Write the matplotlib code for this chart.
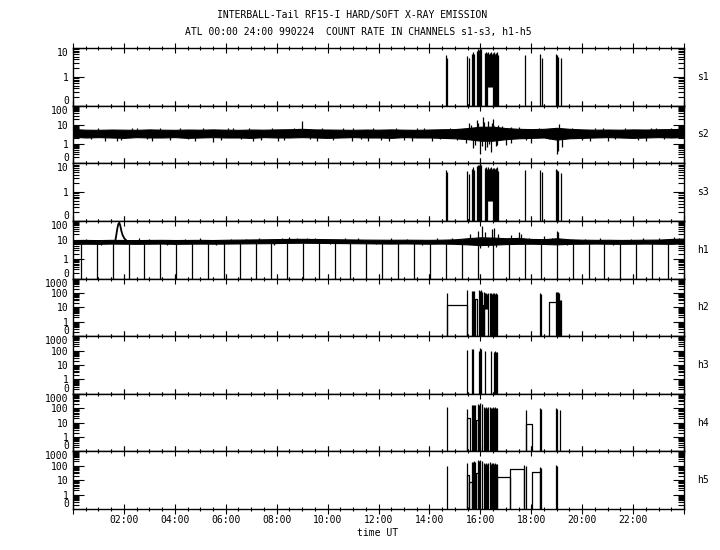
import numpy as np
import matplotlib
matplotlib.use('Agg')
import matplotlib.pyplot as plt
from matplotlib.ticker import FixedLocator, LogLocator, NullFormatter

plt.rcParams['font.family'] = 'DejaVu Sans Mono'
plt.rcParams['font.size'] = 7

# ---- channel layout / axis ranges ----
channels = ['s1', 's2', 's3', 'h1', 'h2', 'h3', 'h4', 'h5']
y_tops = [10, 100, 10, 100, 1000, 1000, 1000, 1000]
FLOOR = 0.1          # zero counts are shown at the bottom ("0")

hour_ticks = [0, 2, 4, 6, 8, 10, 12, 14, 16, 18, 20, 22, 24]
hour_labels = ['', '02:00', '04:00', '06:00', '08:00', '10:00', '12:00',
               '14:00', '16:00', '18:00', '20:00', '22:00', '']

# ---- s2 : noisy background band (half-hour envelope) + outliers ----
band_t = np.arange(0, 24.01, 0.5)
s2_lo = [2.4, 2.2, 2.3, 2.2, 2.1, 2.3, 2.2, 2.2, 2.3, 2.1, 2.2, 2.3,
         2.2, 2.2, 2.1, 2.3, 2.2, 2.2, 2.3, 2.2, 2.1, 2.2, 2.3, 2.2,
         2.2, 2.1, 2.3, 2.2, 2.2, 2.1, 2.0, 1.8, 1.5, 1.5, 1.8, 2.0,
         2.1, 2.2, 1.7, 2.0, 2.1, 2.2, 2.3, 2.2, 2.1, 2.2, 2.3, 2.2,
         2.3]
s2_hi = [6.0, 5.6, 5.5, 5.7, 5.6, 5.5, 5.8, 5.6, 5.5, 5.7, 5.6, 5.8,
         5.6, 5.5, 5.7, 5.6, 5.8, 5.9, 6.2, 5.8, 5.7, 5.6, 5.5, 5.7,
         5.6, 5.8, 5.6, 5.5, 5.7, 5.9, 6.0, 6.8, 8.0, 8.0, 6.8, 6.2,
         6.0, 6.2, 7.0, 6.2, 5.8, 5.6, 5.7, 5.6, 5.8, 5.7, 5.9, 6.0,
         6.2]
s2_out_t = [1.26, 1.72, 2.5, 3.09, 4.79, 5.5, 6.3, 7.07, 8.05, 9.0, 9.57, 10.95,
            11.0, 11.6, 12.4, 13.3, 13.8, 14.1, 15.55, 15.7, 15.85, 16.0, 16.1,
            16.2, 16.3, 16.4, 16.5, 16.6, 16.7, 17.0, 17.5, 18.0, 19.0, 19.05,
            19.1, 19.2, 20.3, 20.8, 21.0, 22.5, 22.9, 23.9,
            15.45, 15.62, 15.78, 15.92, 16.05, 16.15, 16.25, 16.35, 16.45, 16.55, 16.65,
            16.85, 17.2]
s2_out_v = [1.4, 1.5, 7.0, 1.4, 1.5, 1.3, 7.0, 1.4, 1.5, 15.0, 1.4, 1.5,
            7.0, 1.5, 1.4, 1.5, 7.0, 1.4, 12.0, 0.6, 18.0, 0.3, 25.0,
            0.5, 15.0, 0.4, 20.0, 0.8, 10.0, 0.9, 8.0, 1.2, 0.3, 0.45,
            11.0, 0.7, 1.5, 7.0, 1.5, 1.4, 7.0, 8.0,
            1.2, 10.0, 0.9, 12.0, 0.8, 14.0, 0.7, 1.0, 12.0, 9.0, 0.9,
            9.0, 1.1]
s2_jag_t = [0.2, 0.7, 1.0, 1.9, 2.3, 2.9, 3.4, 3.8, 4.2, 4.5,
            5.1, 5.8, 6.1, 6.6, 6.9, 7.4, 7.8, 8.3, 8.7, 9.3,
            9.8, 10.2, 10.6, 11.3, 11.8, 12.1, 12.7, 13.0, 13.5, 14.4,
            14.8, 15.1, 17.2, 17.8, 18.3, 18.7, 19.6, 20.0, 20.5, 21.3,
            21.7, 22.2, 22.7, 23.2, 23.5]
s2_jag_v = [6.8, 1.8, 7.2, 1.7, 6.9, 1.8, 7.0, 1.6, 6.8, 1.8,
            7.1, 1.7, 6.9, 1.8, 7.0, 1.7, 6.8, 1.6, 7.2, 1.8,
            6.9, 1.7, 7.0, 1.8, 6.8, 1.7, 7.1, 1.6, 6.9, 1.8,
            7.0, 1.7, 7.5, 1.6, 7.2, 1.8, 6.9, 1.7, 7.0, 1.8,
            6.8, 1.7, 7.1, 1.8, 6.9]

# ---- h1 : background band, peak near 01:50, periodic dropouts ----
h1_lo = [6.3, 6.5, 6.4, 6.6, 6.5, 6.4, 6.5, 6.6, 6.4, 6.5, 6.6, 6.5,
         6.6, 6.7, 6.8, 6.9, 7.0, 7.2, 7.3, 7.2, 7.1, 7.0, 6.9, 6.8,
         6.7, 6.6, 6.7, 6.6, 6.5, 6.6, 6.4, 6.0, 5.5, 5.8, 6.2, 6.4,
         6.5, 6.3, 6.0, 6.4, 6.5, 6.6, 6.5, 6.4, 6.5, 6.6, 6.5, 6.4,
         6.8]
h1_hi = [10.0, 10.2, 10.0, 10.3, 10.1, 10.0, 10.2, 10.3, 10.1, 10.2, 10.3, 10.1,
         10.4, 10.6, 10.8, 11.0, 11.3, 11.5, 11.6, 11.4, 11.2, 11.0, 10.8, 10.6,
         10.5, 10.4, 10.5, 10.4, 10.3, 10.5, 11.0, 12.5, 14.0, 13.5, 12.5, 13.0,
         11.5, 11.2, 12.5, 11.0, 10.5, 10.3, 10.4, 10.2, 10.3, 10.5, 10.6, 11.5,
         12.0]
h1_peak_t = [1.66, 1.70, 1.74, 1.78, 1.82, 1.86, 1.90, 1.95, 2.02, 2.10]
h1_peak_v = [9.0, 18.0, 40.0, 68.0, 80.0, 55.0, 30.0, 18.0, 12.0, 9.5]
h1_out_t = [8.5, 9.2, 15.6, 15.9, 16.0, 16.05, 16.2, 16.3, 16.45, 16.55, 16.6,
            16.7, 17.2, 17.5, 17.6, 18.5, 19.0, 19.05, 23.6]
h1_out_v = [14, 13, 20, 30, 4.0, 55, 25, 4.5, 40, 45, 4.2,
            20, 18, 25, 22, 16, 30, 25, 14]
h1_jag_t = [0.5, 1.1, 2.6, 3.0, 3.7, 4.4, 5.0, 5.6, 6.2, 6.8,
            7.3, 7.9, 8.2, 8.8, 9.5, 10.1, 10.7, 11.2, 11.9, 12.5,
            13.1, 13.7, 14.3, 14.9, 17.9, 18.8, 19.4, 20.1, 20.7, 21.2,
            21.9, 22.4, 23.0, 23.8]
h1_jag_v = [12, 5.5, 12.5, 11.5, 5.6, 12, 12.5, 5.5, 12, 11.8,
            12.5, 5.8, 13, 12.8, 13.5, 6, 13, 12.5, 6, 12.5,
            12, 5.7, 12.5, 13, 12.5, 13, 5.6, 12, 12.5, 5.5,
            12, 12.5, 12.8, 13]
h1_drop_t = [0.31, 0.94, 1.57, 2.20, 2.79, 3.42, 4.05, 4.67, 5.30, 5.93,
             6.56, 7.19, 7.78, 8.41, 9.04, 9.66, 10.29, 10.88, 11.51, 12.14,
             12.77, 13.39, 14.02, 14.65, 15.28, 15.91, 16.50, 17.12, 17.75,
             18.38, 19.01, 19.64, 20.27, 20.86, 21.48, 22.11, 22.74, 23.37]

# ---- s1 / s3 : burst spikes (time, peak, base) ----
s1_t = [14.65, 14.70, 15.49, 15.55, 15.68, 15.72, 15.76, 15.87, 15.91, 15.95,
        15.99, 16.01, 16.18, 16.22, 16.27, 16.30, 16.34, 16.38, 16.42, 16.46,
        16.50, 16.54, 16.57, 16.60, 16.64, 16.67, 16.70, 17.75, 18.34, 18.41,
        18.97, 19.01, 19.06, 19.15]
s1_top = [5.8, 4.5, 5.3, 4.4, 6.2, 7.0, 6.0, 8.0, 9.0, 8.5,
          9.5, 9.0, 6.5, 7.0, 6.5, 7.0, 6.0, 6.5, 7.0, 6.0,
          6.5, 7.0, 6.0, 6.5, 7.0, 6.0, 5.5, 5.7, 6.2, 4.5,
          6.0, 5.5, 5.0, 4.6]
s1_base = [0, 0, 0, 0, 0, 0, 0, 0, 0, 0,
           0, 0, 0, 0, 0, 0.46, 0.46, 0.46, 0.46, 0.46,
           0, 0, 0, 0, 0, 0, 0, 0, 0, 0,
           0, 0, 0, 0]

s3_t = [14.65, 14.70, 15.49, 15.55, 15.68, 15.72, 15.76, 15.87, 15.91, 15.95,
        15.99, 16.01, 16.18, 16.22, 16.27, 16.30, 16.34, 16.38, 16.42, 16.46,
        16.50, 16.54, 16.57, 16.60, 16.64, 16.67, 16.70, 17.75, 18.34, 18.41,
        18.97, 19.01, 19.06, 19.15]
s3_top = [6.0, 4.8, 5.5, 4.2, 6.5, 7.2, 5.8, 8.2, 9.0, 8.8,
          9.2, 8.5, 6.8, 7.2, 6.2, 7.2, 6.2, 6.8, 7.2, 6.2,
          6.8, 7.0, 6.2, 6.8, 7.2, 6.2, 5.2, 5.8, 6.0, 4.8,
          6.2, 5.8, 5.2, 4.5]
s3_base = [0, 0, 0, 0, 0, 0, 0, 0, 0, 0,
           0, 0, 0, 0, 0, 0.5, 0.5, 0.5, 0.5, 0.5,
           0, 0, 0, 0, 0, 0, 0, 0, 0, 0,
           0, 0, 0, 0]

# ---- h2..h5 : spikes and flat stretches (start, end, level) ----
dense_t = [16.16, 16.20, 16.24, 16.28, 16.32, 16.36, 16.40, 16.44, 16.48,
           16.52, 16.56, 16.60, 16.64]

h2_t = [14.68, 15.49, 15.68, 15.72, 15.75, 15.95, 15.99, 16.03, 16.07] + dense_t + \
       [18.34, 18.40, 18.97, 19.01, 19.05, 19.09, 19.13, 19.15]
h2_top = [93, 150, 140, 130, 140, 150, 140, 150, 120] + \
         [110, 95, 100, 90, 105, 95, 100, 90, 95, 100, 90, 95, 85] + \
         [95, 85, 120, 110, 120, 100, 30, 30]
h2_base = [0, 0, 0, 0, 0, 0, 0, 0, 0] + \
          [0, 7.5, 7.5, 7.5, 0, 0, 0, 0, 0, 0, 0, 0, 0] + \
          [0, 0, 0, 0, 0, 0, 0, 0]
h2_flat = [(14.68, 15.49, 14), (15.78, 15.86, 37), (16.09, 16.16, 14), (18.71, 19.0, 22)]

h3_t = [15.49, 15.68, 15.72, 15.95, 15.99, 16.03, 16.18, 16.42, 16.54, 16.58, 16.62, 16.64]
h3_top = [115, 125, 120, 100, 150, 130, 87, 100, 85, 90, 80, 85]

h4_t = [14.68, 15.49, 15.66, 15.70, 15.74, 15.78, 15.92, 15.96, 16.00, 16.05] + dense_t + \
       [17.78, 18.34, 18.40, 18.97, 19.01, 19.13]
h4_top = [120, 92, 170, 160, 180, 160, 200, 180, 220, 190] + \
         [120, 110, 130, 100, 115, 125, 105, 110, 130, 100, 115, 110, 100] + \
         [80, 95, 85, 95, 90, 80]
h4_flat = [(15.49, 15.59, 22), (15.82, 15.92, 14), (17.78, 18.02, 7.5)]

h5_t = [14.68, 15.49, 15.66, 15.70, 15.74, 15.78, 15.92, 15.96, 16.00, 16.05] + dense_t + \
       [17.73, 17.78, 18.34, 18.40, 18.97, 19.00]
h5_top = [95, 150, 190, 170, 200, 170, 250, 220, 260, 200] + \
         [150, 140, 160, 130, 150, 170, 140, 150, 160, 130, 150, 140, 130] + \
         [110, 100, 85, 75, 110, 100]
h5_flat = [(15.49, 15.57, 23), (15.57, 15.66, 8), (15.82, 15.92, 30),
           (16.64, 17.16, 16), (17.16, 17.73, 57), (18.02, 18.34, 40)]

LW = 0.9


def clip(v):
    return np.clip(np.asarray(v, dtype=float), FLOOR, None)


def spikes(ax, t, top, base=None):
    if base is None:
        base = np.zeros(len(t))
    ax.vlines(t, clip(base), clip(top), color='k', lw=LW)


def flats(ax, segs):
    for a, b, v in segs:
        ax.plot([a, a, b, b], [FLOOR, v, v, FLOOR], color='k', lw=LW)


fig, axes = plt.subplots(len(channels), 1, sharex=True, figsize=(7.2, 5.5), dpi=100)
fig.subplots_adjust(left=0.1014, right=0.95, top=0.9127, bottom=0.0745, hspace=0)

for i, (ax, name, top) in enumerate(zip(axes, channels, y_tops)):
    ax.set_yscale('log')
    ax.set_ylim(FLOOR, top)
    ax.set_xlim(0, 24)

    yt = [FLOOR] + [10.0 ** k for k in range(0, int(round(np.log10(top))) + 1)]
    ylab = ['0'] + ['%d' % v for v in yt[1:]]
    ax.yaxis.set_major_locator(FixedLocator(yt))
    ax.set_yticklabels(ylab)
    ax.yaxis.set_minor_locator(LogLocator(base=10, subs=np.arange(2, 10)))
    ax.yaxis.set_minor_formatter(NullFormatter())
    lbls = ax.get_yticklabels()
    lbls[0].set_va('bottom')
    lbls[-1].set_va('top')

    ax.tick_params(axis='y', which='both', direction='in', left=True, right=True, pad=3)
    ax.tick_params(axis='y', which='major', length=8, width=0.8)
    ax.tick_params(axis='y', which='minor', length=4, width=0.8)

    ax.xaxis.set_major_locator(FixedLocator(hour_ticks))
    ax.xaxis.set_minor_locator(FixedLocator(np.arange(0, 24.01, 0.5)))
    ax.tick_params(axis='x', which='both', direction='inout', top=True, bottom=True, width=0.8)
    ax.tick_params(axis='x', which='major', length=7)
    ax.tick_params(axis='x', which='minor', length=3)
    for s in ax.spines.values():
        s.set_linewidth(1.0)

    ax.text(1.031, 0.5, name, transform=ax.transAxes, ha='center', va='center')

axes[-1].set_xticks(hour_ticks)
axes[-1].set_xticklabels(hour_labels)
axes[-1].tick_params(axis='x', which='both', pad=1)

# s1
spikes(axes[0], s1_t, s1_top, s1_base)
# s2
axes[1].fill_between(band_t, s2_lo, s2_hi, color='k', lw=0.8)
axes[1].vlines(s2_out_t, 3.5, s2_out_v, color='k', lw=LW)
axes[1].vlines(s2_jag_t, 3.5, s2_jag_v, color='k', lw=LW)
# s3
spikes(axes[2], s3_t, s3_top, s3_base)
# h1
axes[3].fill_between(band_t, h1_lo, h1_hi, color='k', lw=0.8)
axes[3].vlines(h1_out_t, 8.0, h1_out_v, color='k', lw=LW)
axes[3].vlines(h1_jag_t, 8.0, h1_jag_v, color='k', lw=LW)
axes[3].plot(h1_peak_t, h1_peak_v, color='k', lw=1.3)
axes[3].vlines(h1_drop_t, FLOOR, 7.0, color='k', lw=LW)
# h2
spikes(axes[4], h2_t, h2_top, h2_base)
flats(axes[4], h2_flat)
# h3
spikes(axes[5], h3_t, h3_top)
# h4
spikes(axes[6], h4_t, h4_top)
flats(axes[6], h4_flat)
# h5
spikes(axes[7], h5_t, h5_top)
flats(axes[7], h5_flat)

fig.text(0.489, 0.973, 'INTERBALL-Tail RF15-I HARD/SOFT X-RAY EMISSION', ha='center', va='center')
fig.text(0.497, 0.941, 'ATL 00:00 24:00 990224  COUNT RATE IN CHANNELS s1-s3, h1-h5',
         ha='center', va='center')
fig.text(0.525, 0.031, 'time UT', ha='center', va='center')

fig.savefig('out.png', dpi=100)
